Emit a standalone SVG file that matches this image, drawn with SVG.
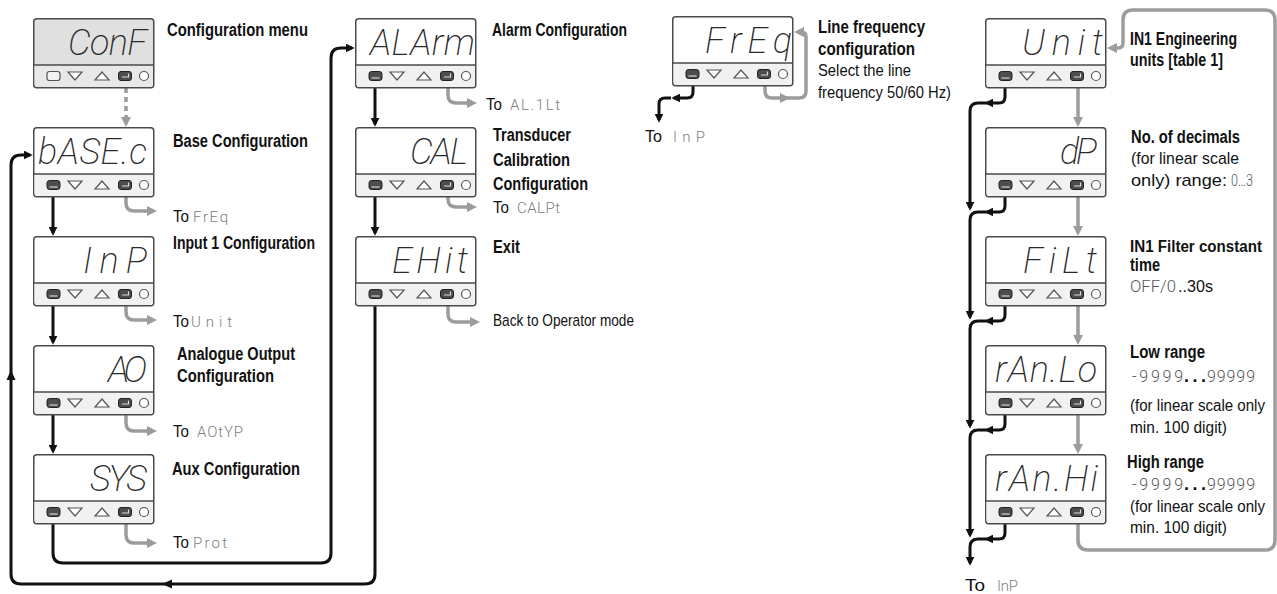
<svg xmlns="http://www.w3.org/2000/svg" xmlns:xlink="http://www.w3.org/1999/xlink" width="1277" height="594" viewBox="0 0 1277 594">
<style>
.lb{font-family:"Liberation Sans",Arial,sans-serif;font-weight:bold;font-size:18px;fill:#111}
.lt{font-family:"Liberation Sans",Arial,sans-serif;font-size:17px;fill:#111}
.sm{font-size:16px}
.dsp{font-family:Roboto,"DejaVu Sans",sans-serif;font-weight:200;font-style:italic;font-size:36px;fill:#2a2a2a}
.cd{font-family:Roboto,"DejaVu Sans",sans-serif;font-weight:300;font-size:15px;fill:#808080}
.cd2{font-family:Roboto,"DejaVu Sans",sans-serif;font-weight:300;font-size:16px;fill:#555}
.cb{fill:none;stroke:#111;stroke-width:3}
.cg{fill:none;stroke:#9c9c9c;stroke-width:3.5}
.dash{stroke-dasharray:5 4}
.hb{fill:#111}
.hg{fill:#9c9c9c}
.box{fill:#fff;stroke:#4a4a4a;stroke-width:1.5}
.strip{fill:#f1f1f1}
.div{stroke:#4a4a4a;stroke-width:1.5}
.tri{fill:#fff;stroke:#555;stroke-width:1.2}
.kf{fill:#4d4d4d;stroke:#222;stroke-width:1}
.km{fill:none;stroke:#ddd;stroke-width:1.1}
</style>
<defs>
<marker id="ab" viewBox="0 0 10 10" refX="7" refY="5" markerWidth="9" markerHeight="9" markerUnits="userSpaceOnUse" orient="auto"><path d="M0,0 L10,5 L0,10 z" class="hb"/></marker>
<marker id="ag" viewBox="0 0 10 10" refX="6" refY="5" markerWidth="10" markerHeight="10" markerUnits="userSpaceOnUse" orient="auto"><path d="M0,0 L10,5 L0,10 z" class="hg"/></marker>
<g id="keys">
<path class="tri" d="M35 54 H49 L42 62 Z"/>
<path class="tri" d="M62 62 H76 L69 54 Z"/>
<rect class="kf" x="85.5" y="53.5" width="13" height="9" rx="2.5"/>
<path class="km" d="M95.5 55.5 V59 H89"/>
<circle class="tri" cx="111" cy="58" r="4.5"/>
</g>
<g id="dev">
<rect class="box" x="0.75" y="0.75" width="120" height="69" rx="3"/>
<path class="strip" d="M1.5 47 H120 V66 Q120 69 117 69 H4.5 Q1.5 69 1.5 66 Z"/>
<line class="div" x1="0.75" y1="47" x2="120.75" y2="47"/>
<rect class="kf" x="14" y="53.5" width="13" height="9" rx="2.5"/>
<path class="km" d="M16.5 60 H24.5"/>
<use xlink:href="#keys"/>
</g>
<g id="devC">
<rect x="0.75" y="0.75" width="120" height="69" rx="3" fill="#e0e0e0" stroke="#4a4a4a" stroke-width="1.5"/>
<path d="M1.5 47 H120 V66 Q120 69 117 69 H4.5 Q1.5 69 1.5 66 Z" fill="#e8e8e8"/>
<line class="div" x1="0.75" y1="47" x2="120.75" y2="47"/>
<rect x="14" y="53.5" width="13" height="9" rx="2.5" fill="#f2f2f2" stroke="#555" stroke-width="1.2"/>
<use xlink:href="#keys"/>
</g>
</defs>
<rect width="1277" height="594" fill="#fff"/>

<g id="connectors">
<path class="cg dash" d="M126 88 V123" marker-end="url(#ag)"/>
<path class="cb" d="M53 197 V233" marker-end="url(#ab)"/>
<path class="cb" d="M53 306 V342" marker-end="url(#ab)"/>
<path class="cb" d="M53 415 V451" marker-end="url(#ab)"/>
<path class="cb" d="M53 524 V553 Q53 563 63 563 H321 Q331 563 331 553 V58 Q331 48 341 48 H352" marker-end="url(#ab)"/>
<path class="cb" d="M375 306 V574 Q375 584 365 584 H21 Q11 584 11 574 V165 Q11 155 21 155 H30" marker-end="url(#ab)"/>
<polygon class="hb" points="11,370 6.5,380 15.5,380"/>
<polygon class="hb" points="162,584 172,579.5 172,588.5"/>
<path class="cg" d="M126 197 V203 Q126 211 134 211 H153" marker-end="url(#ag)"/>
<path class="cg" d="M126 306 V312 Q126 320 134 320 H153" marker-end="url(#ag)"/>
<path class="cg" d="M126 415 V423 Q126 431 134 431 H153" marker-end="url(#ag)"/>
<path class="cg" d="M126 524 V535 Q126 543 134 543 H153" marker-end="url(#ag)"/>
<path class="cb" d="M375 88 V124" marker-end="url(#ab)"/>
<path class="cb" d="M375 197 V233" marker-end="url(#ab)"/>
<path class="cg" d="M448 88 V95 Q448 103 456 103 H473" marker-end="url(#ag)"/>
<path class="cg" d="M448 197 V199 Q448 207 456 207 H473" marker-end="url(#ag)"/>
<path class="cg" d="M448 306 V314 Q448 322 456 322 H476" marker-end="url(#ag)"/>
<path class="cg" d="M765 86 V91 Q765 98 772 98 H799 Q806 98 806 91 V37 Q806 32 801 32 H798" marker-end="url(#ag)"/>
<polygon class="hg" points="790,98 780,93 780,103"/>
<path class="cb" d="M693 86 V92 Q693 98 687 98 H674" marker-end="url(#ab)"/>
<path class="cb" d="M671 98 H665 Q659 98 659 104 V120" marker-end="url(#ab)"/>
<path class="cg" d="M1078 88 V123" marker-end="url(#ag)"/>
<path class="cg" d="M1078 197 V232" marker-end="url(#ag)"/>
<path class="cg" d="M1078 306 V341" marker-end="url(#ag)"/>
<path class="cg" d="M1078 415 V450" marker-end="url(#ag)"/>
<path class="cg" d="M1078 524 V540 Q1078 550 1088 550 H1265 Q1275 550 1275 540 V20 Q1275 10 1265 10 H1133 Q1123 10 1123 20 V43 Q1123 48 1118 48 H1111" marker-end="url(#ag)"/>
<path class="cb" d="M1005 88 V97 Q1005 103 999 103 H987" marker-end="url(#ab)"/>
<path class="cb" d="M1005 197 V206 Q1005 212 999 212 H987" marker-end="url(#ab)"/>
<path class="cb" d="M1005 306 V315 Q1005 321 999 321 H987" marker-end="url(#ab)"/>
<path class="cb" d="M1005 415 V424 Q1005 430 999 430 H987" marker-end="url(#ab)"/>
<path class="cb" d="M1005 524 V533 Q1005 539 999 539 H987" marker-end="url(#ab)"/>
<path class="cb" d="M987 103 H978 Q970 103 970 111 V208" marker-end="url(#ab)"/>
<path class="cb" d="M987 212 H978 Q970 212 970 220 V317" marker-end="url(#ab)"/>
<path class="cb" d="M987 321 H978 Q970 321 970 329 V426" marker-end="url(#ab)"/>
<path class="cb" d="M987 430 H978 Q970 430 970 438 V535" marker-end="url(#ab)"/>
<path class="cb" d="M987 539 H978 Q970 539 970 547 V563" marker-end="url(#ab)"/>
</g>

<g id="n-conf">
<use xlink:href="#devC" x="33" y="18"/>
<text class="dsp" x="68" y="55" textLength="79" lengthAdjust="spacing">ConF</text>
<text class="lb" x="167" y="36" textLength="141" lengthAdjust="spacingAndGlyphs">Configuration menu</text>
</g>
<g id="n-basec">
<use xlink:href="#dev" x="33" y="127"/>
<text class="dsp" x="38" y="164" textLength="109" lengthAdjust="spacing">bASE.c</text>
<text class="lb" x="173" y="147" textLength="135" lengthAdjust="spacingAndGlyphs">Base Configuration</text>
<text class="lt" x="173" y="222" textLength="16" lengthAdjust="spacingAndGlyphs">To</text>
<text class="cd" x="193" y="222" textLength="35" lengthAdjust="spacing">FrEq</text>
</g>
<g id="n-inp">
<use xlink:href="#dev" x="33" y="236"/>
<text class="dsp" x="83" y="273" textLength="64" lengthAdjust="spacing">InP</text>
<text class="lb" x="173" y="249" textLength="142" lengthAdjust="spacingAndGlyphs">Input 1 Configuration</text>
<text class="lt" x="173" y="327" textLength="16" lengthAdjust="spacingAndGlyphs">To</text>
<text class="cd" x="191" y="327" textLength="41" lengthAdjust="spacing">Unit</text>
</g>
<g id="n-ao">
<use xlink:href="#dev" x="33" y="345"/>
<text class="dsp" x="108" y="382" textLength="39" lengthAdjust="spacing">AO</text>
<text class="lb" x="177" y="360" textLength="118" lengthAdjust="spacingAndGlyphs">Analogue Output</text>
<text class="lb" x="177" y="382" textLength="97" lengthAdjust="spacingAndGlyphs">Configuration</text>
<text class="lt" x="173" y="437" textLength="16" lengthAdjust="spacingAndGlyphs">To</text>
<text class="cd" x="197" y="437" textLength="46" lengthAdjust="spacing">AOtYP</text>
</g>
<g id="n-sys">
<use xlink:href="#dev" x="33" y="454"/>
<text class="dsp" x="90" y="491" textLength="57" lengthAdjust="spacing">SYS</text>
<text class="lb" x="172" y="475" textLength="128" lengthAdjust="spacingAndGlyphs">Aux Configuration</text>
<text class="lt" x="173" y="548" textLength="16" lengthAdjust="spacingAndGlyphs">To</text>
<text class="cd" x="193" y="548" textLength="34" lengthAdjust="spacing">Prot</text>
</g>

<g id="n-alarm">
<use xlink:href="#dev" x="355" y="18"/>
<text class="dsp" x="370" y="55" textLength="105" lengthAdjust="spacing">ALArm</text>
<text class="lb" x="492" y="36" textLength="135" lengthAdjust="spacingAndGlyphs">Alarm Configuration</text>
<text class="lt" x="486" y="110" textLength="16" lengthAdjust="spacingAndGlyphs">To</text>
<text class="cd" x="510" y="110" textLength="50" lengthAdjust="spacing">AL.1Lt</text>
</g>
<g id="n-cal">
<use xlink:href="#dev" x="355" y="127"/>
<text class="dsp" x="410" y="164" textLength="58" lengthAdjust="spacing">CAL</text>
<text class="lb" x="493" y="141" textLength="78" lengthAdjust="spacingAndGlyphs">Transducer</text>
<text class="lb" x="493" y="166" textLength="77" lengthAdjust="spacingAndGlyphs">Calibration</text>
<text class="lb" x="493" y="190" textLength="95" lengthAdjust="spacingAndGlyphs">Configuration</text>
<text class="lt" x="493" y="213" textLength="16" lengthAdjust="spacingAndGlyphs">To</text>
<text class="cd" x="517" y="213" textLength="43" lengthAdjust="spacing">CALPt</text>
</g>
<g id="n-exit">
<use xlink:href="#dev" x="355" y="236"/>
<text class="dsp" x="392" y="273" textLength="76" lengthAdjust="spacing">EHit</text>
<text class="lb" x="493" y="253" textLength="27" lengthAdjust="spacingAndGlyphs">Exit</text>
<text class="lt" x="493" y="326" textLength="141" lengthAdjust="spacingAndGlyphs">Back to Operator mode</text>
</g>

<g id="n-freq">
<use xlink:href="#dev" x="672" y="16"/>
<text class="dsp" x="705" y="53" textLength="87" lengthAdjust="spacing">FrEq</text>
<text class="lb" x="818" y="33" textLength="107" lengthAdjust="spacingAndGlyphs">Line frequency</text>
<text class="lb" x="818" y="55" textLength="97" lengthAdjust="spacingAndGlyphs">configuration</text>
<text class="lt" x="818" y="76" textLength="93" lengthAdjust="spacingAndGlyphs">Select the line</text>
<text class="lt" x="818" y="98" textLength="133" lengthAdjust="spacingAndGlyphs">frequency 50/60 Hz)</text>
<text class="lt" x="645" y="142" textLength="17" lengthAdjust="spacingAndGlyphs">To</text>
<text class="cd" x="673" y="142" textLength="32" lengthAdjust="spacing">InP</text>
</g>

<g id="n-unit">
<use xlink:href="#dev" x="985" y="18"/>
<text class="dsp" x="1022" y="55" textLength="81" lengthAdjust="spacing">Unit</text>
<text class="lb" x="1130" y="45" textLength="107" lengthAdjust="spacingAndGlyphs">IN1 Engineering</text>
<text class="lb" x="1130" y="66" textLength="93" lengthAdjust="spacingAndGlyphs">units [table 1]</text>
</g>
<g id="n-dp">
<use xlink:href="#dev" x="985" y="127"/>
<text class="dsp" x="1060" y="164" textLength="37" lengthAdjust="spacing">dP</text>
<text class="lb" x="1131" y="143" textLength="109" lengthAdjust="spacingAndGlyphs">No. of decimals</text>
<text class="lt" x="1131" y="164" textLength="108" lengthAdjust="spacingAndGlyphs">(for linear scale</text>
<text class="lt" x="1131" y="186" textLength="96" lengthAdjust="spacingAndGlyphs">only) range:</text>
<text class="cd2" x="1231" y="186" textLength="22" lengthAdjust="spacingAndGlyphs">0…3</text>
</g>
<g id="n-filt">
<use xlink:href="#dev" x="985" y="236"/>
<text class="dsp" x="1023" y="273" textLength="74" lengthAdjust="spacing">FiLt</text>
<text class="lb sm" x="1130" y="252" textLength="132" lengthAdjust="spacingAndGlyphs">IN1 Filter constant</text>
<text class="lb" x="1130" y="271" textLength="30" lengthAdjust="spacingAndGlyphs">time</text>
<text class="cd2" x="1130" y="292" textLength="46" lengthAdjust="spacingAndGlyphs">OFF/0</text>
<text class="lt" x="1178" y="292" textLength="35" lengthAdjust="spacingAndGlyphs">..30s</text>
</g>
<g id="n-ranlo">
<use xlink:href="#dev" x="985" y="345"/>
<text class="dsp" x="995" y="382" textLength="102" lengthAdjust="spacing">rAn.Lo</text>
<text class="lb" x="1130" y="358" textLength="75" lengthAdjust="spacingAndGlyphs">Low range</text>
<text class="cd2" x="1132" y="382" textLength="51" lengthAdjust="spacing">-9999</text>
<text class="lb" x="1184" y="382" textLength="22" lengthAdjust="spacing">...</text>
<text class="cd2" x="1207" y="382" textLength="48" lengthAdjust="spacing">99999</text>
<text class="lt sm" x="1130" y="411" textLength="135" lengthAdjust="spacingAndGlyphs">(for linear scale only</text>
<text class="lt" x="1130" y="433" textLength="97" lengthAdjust="spacingAndGlyphs">min. 100 digit)</text>
</g>
<g id="n-ranhi">
<use xlink:href="#dev" x="985" y="454"/>
<text class="dsp" x="995" y="491" textLength="103" lengthAdjust="spacing">rAn.Hi</text>
<text class="lb" x="1127" y="468" textLength="77" lengthAdjust="spacingAndGlyphs">High range</text>
<text class="cd2" x="1132" y="490" textLength="51" lengthAdjust="spacing">-9999</text>
<text class="lb" x="1184" y="490" textLength="22" lengthAdjust="spacing">...</text>
<text class="cd2" x="1207" y="490" textLength="48" lengthAdjust="spacing">99999</text>
<text class="lt sm" x="1130" y="512" textLength="135" lengthAdjust="spacingAndGlyphs">(for linear scale only</text>
<text class="lt" x="1130" y="533" textLength="97" lengthAdjust="spacingAndGlyphs">min. 100 digit)</text>
<text class="lt" x="965" y="591" textLength="20" lengthAdjust="spacingAndGlyphs">To</text>
<text class="cd" x="997" y="591" textLength="21" lengthAdjust="spacing">InP</text>
</g>
</svg>
